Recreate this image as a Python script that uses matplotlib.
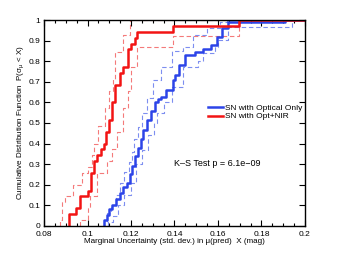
import matplotlib
matplotlib.use("Agg")
import matplotlib.pyplot as plt
from matplotlib.ticker import MultipleLocator, FixedLocator

plt.rcParams['font.family'] = ['Liberation Sans', 'DejaVu Sans']
plt.rcParams['mathtext.fontset'] = 'custom'
plt.rcParams['mathtext.rm'] = 'Liberation Sans'
plt.rcParams['mathtext.it'] = 'Liberation Sans:italic'

# Red: SN with Opt+NIR (solid CDF), upper / lower dashed bounds
red_x = [0.0916, 0.0916, 0.0947, 0.0966, 0.1000, 0.1015, 0.1030, 0.1045, 0.1060, 0.1075,
         0.1085, 0.1100, 0.1112, 0.1126, 0.1150, 0.1162, 0.1188, 0.1200, 0.1218, 0.1226,
         0.1393, 0.1697, 0.2000]
red_y = [0.000, 0.057, 0.086, 0.143, 0.171, 0.257, 0.314, 0.343, 0.371, 0.400,
         0.457, 0.514, 0.600, 0.686, 0.743, 0.771, 0.857, 0.886, 0.914, 0.943,
         0.971, 1.000, 1.000]
red_up_x = [0.0874, 0.0874, 0.0885, 0.0897, 0.0935, 0.0975, 0.1000, 0.1022, 0.1030, 0.1050,
            0.1080, 0.1100, 0.1119, 0.1126, 0.1165, 0.1195, 0.2000]
red_up_y = [0.000, 0.029, 0.114, 0.143, 0.200, 0.257, 0.286, 0.343, 0.400, 0.486,
            0.571, 0.657, 0.714, 0.843, 0.929, 1.000, 1.000]
red_lo_x = [0.0965, 0.0965, 0.1000, 0.1011, 0.1042, 0.1088, 0.1111, 0.1134, 0.1165, 0.1188,
            0.1200, 0.1226, 0.1393, 0.1697, 0.2000]
red_lo_y = [0.000, 0.029, 0.086, 0.143, 0.257, 0.314, 0.371, 0.457, 0.571, 0.657,
            0.771, 0.871, 0.924, 1.000, 1.000]

# Blue: SN with Optical Only
blue_x = [0.1077, 0.1077, 0.1088, 0.1100, 0.1113, 0.1130, 0.1150, 0.1165, 0.1180, 0.1195,
          0.1205, 0.1218, 0.1230, 0.1245, 0.1257, 0.1272, 0.1290, 0.1310, 0.1325, 0.1340,
          0.1360, 0.1394, 0.1402, 0.1420, 0.1448, 0.1494, 0.1530, 0.1570, 0.1594, 0.1620,
          0.1646, 0.1908, 0.2000]
blue_y = [0.000, 0.028, 0.052, 0.080, 0.100, 0.130, 0.160, 0.190, 0.210, 0.250,
          0.290, 0.340, 0.380, 0.420, 0.465, 0.513, 0.560, 0.600, 0.615, 0.627,
          0.660, 0.708, 0.733, 0.780, 0.830, 0.846, 0.860, 0.878, 0.919, 0.963,
          0.990, 1.000, 1.000]
blue_up_x = [0.1075, 0.1075, 0.1090, 0.1110, 0.1130, 0.1149, 0.1170, 0.1190, 0.1203, 0.1215,
             0.1230, 0.1250, 0.1275, 0.1303, 0.1340, 0.1390, 0.1441, 0.1487, 0.1548, 0.1609,
             0.1640, 0.2000]
blue_up_y = [0.000, 0.020, 0.060, 0.100, 0.150, 0.206, 0.260, 0.310, 0.360, 0.420,
             0.480, 0.546, 0.620, 0.708, 0.770, 0.850, 0.870, 0.927, 0.963, 0.990,
             1.000, 1.000]
blue_lo_x = [0.1096, 0.1096, 0.1116, 0.1140, 0.1170, 0.1200, 0.1225, 0.1250, 0.1280, 0.1307,
             0.1318, 0.1350, 0.1387, 0.1440, 0.1510, 0.1532, 0.1586, 0.1601, 0.1647, 0.1939,
             0.2000]
blue_lo_y = [0.000, 0.020, 0.050, 0.100, 0.150, 0.206, 0.300, 0.370, 0.440, 0.500,
             0.546, 0.600, 0.676, 0.773, 0.800, 0.838, 0.870, 0.903, 0.967, 1.000,
             1.000]

x_ticks = [0.08, 0.10, 0.12, 0.14, 0.16, 0.18, 0.20]
x_tick_labels = ["0.08", "0.1", "0.12", "0.14", "0.16", "0.18", "0.2"]
y_ticks = [0, 0.1, 0.2, 0.3, 0.4, 0.5, 0.6, 0.7, 0.8, 0.9, 1.0]
y_tick_labels = ["0", "0.1", "0.2", "0.3", "0.4", "0.5", "0.6", "0.7", "0.8", "0.9", "1"]

RED = '#f21414'
RED_L = '#f47a7a'
BLUE = '#2c44e8'
BLUE_L = '#7d8ef0'

fig = plt.figure(figsize=(3.37, 2.54), dpi=100)
ax = fig.add_axes([0.1306, 0.111, 0.7744, 0.810])

ax.plot(red_up_x, red_up_y, drawstyle='steps-post', color=RED_L, lw=0.8, ls=(0, (4, 2.5)))
ax.plot(red_lo_x, red_lo_y, drawstyle='steps-post', color=RED_L, lw=0.8, ls=(0, (4, 2.5)))
ax.plot(blue_up_x, blue_up_y, drawstyle='steps-post', color=BLUE_L, lw=0.8, ls=(0, (4, 2.5)))
ax.plot(blue_lo_x, blue_lo_y, drawstyle='steps-post', color=BLUE_L, lw=0.8, ls=(0, (4, 2.5)))
lb, = ax.plot(blue_x, blue_y, drawstyle='steps-post', color=BLUE, lw=1.8, label='SN with Optical Only')
lr, = ax.plot(red_x, red_y, drawstyle='steps-post', color=RED, lw=1.8, label='SN with Opt+NIR')

ax.set_xlim(0.08, 0.2)
ax.set_ylim(0, 1)
ax.xaxis.set_major_locator(FixedLocator(x_ticks))
ax.set_xticklabels(x_tick_labels)
ax.yaxis.set_major_locator(FixedLocator(y_ticks))
ax.set_yticklabels(y_tick_labels)
ax.xaxis.set_minor_locator(MultipleLocator(0.005))
ax.tick_params(which='both', direction='in', top=True, right=True, labelsize=6)
ax.tick_params(axis='x', pad=3.5)
ax.tick_params(axis='y', pad=2.5)
ax.tick_params(which='major', length=4, width=0.8)
ax.tick_params(which='minor', length=2, width=0.8)
for s in ax.spines.values():
    s.set_linewidth(1.0)

ax.set_xlabel('Marginal Uncertainty (std. dev.) in μ(pred)  X (mag)', fontsize=5.8, labelpad=0.5)
ax.set_ylabel('Cumulative Distribution Function  P(σ$_{\\mathregular{μ}}$ < X)', fontsize=5.8, labelpad=2)

leg = ax.legend(handles=[lb, lr], loc='lower right', bbox_to_anchor=(1.0, 0.5), fontsize=6,
                frameon=False, handlelength=1.8, handletextpad=0.3, labelspacing=0.05,
                borderaxespad=0.2, borderpad=0.1)

ax.text(0.14, 0.305, 'K–S Test p = 6.1e−09', fontsize=6.5, transform=ax.transData, va='center')

fig.savefig('out.png', dpi=100)
